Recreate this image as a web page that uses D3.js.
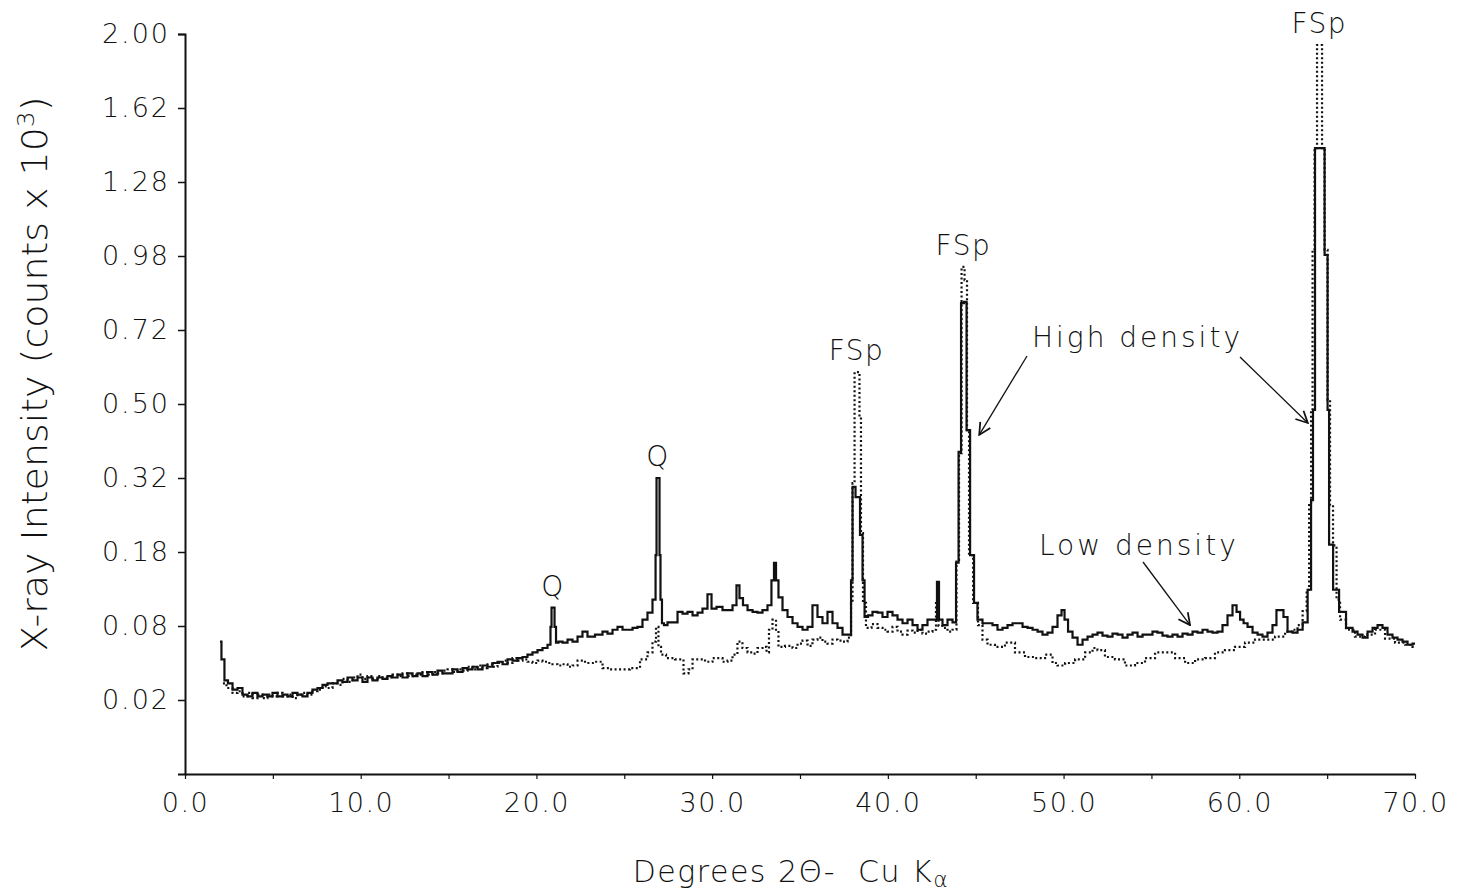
<!DOCTYPE html>
<html>
<head>
<meta charset="utf-8">
<script src="https://cdn.jsdelivr.net/npm/d3@7"></script>
<style>
    body { margin: 0; background: #fff; }
    text { font-family: "DejaVu Sans", sans-serif; font-weight: 200; fill: #111; }
</style>
</head>
<body>
<div id="chart"></div>
<script>
// Degrees 2-theta and intensity (counts x 10^3)
var lowDensity = [
    [1.99,.064],[2.16,.048],[2.33,.032],[2.56,.030],[2.85,.026],[3.13,.027],[3.41,.023],[3.70,.022],[3.98,.024],[4.27,.022],
    [4.55,.023],[4.84,.022],[5.12,.024],[5.41,.022],[5.69,.023],[5.98,.022],[6.26,.024],[6.54,.023],[6.83,.022],[7.11,.024],
    [7.40,.026],[7.68,.027],[7.97,.029],[8.25,.030],[8.54,.030],[8.82,.032],[9.11,.031],[9.39,.034],[9.68,.032],[9.96,.034],
    [10.24,.031],[10.53,.034],[10.81,.032],[11.10,.034],[11.38,.033],[11.67,.035],[11.95,.034],[12.24,.036],[12.52,.034],[12.81,.037],
    [13.09,.035],[13.37,.037],[13.66,.035],[13.94,.038],[14.23,.036],[14.51,.039],[14.80,.037],[15.08,.037],[15.37,.040],[15.65,.038],
    [15.94,.041],[16.22,.040],[16.50,.042],[16.79,.040],[17.07,.043],[17.36,.042],[17.64,.045],[17.93,.046],[18.21,.044],[18.50,.048],
    [18.78,.047],[19.07,.049],[19.35,.050],[19.63,.052],[19.92,.054],[20.20,.056],[20.49,.058],[20.77,.061],[20.83,.079],[20.89,.101],
    [21.00,.101],[21.06,.079],[21.17,.063],[21.34,.064],[21.63,.063],[21.91,.066],[22.20,.064],[22.48,.069],[22.76,.074],[23.05,.069],
    [23.62,.071],[23.90,.074],[24.19,.072],[24.47,.076],[24.76,.079],[25.04,.076],[25.33,.076],[25.61,.078],[25.89,.079],[26.18,.087],
    [26.46,.095],[26.75,.111],[26.81,.175],[26.86,.320],[26.98,.320],[27.03,.175],[27.09,.111],[27.20,.083],[27.32,.081],[27.60,.084],
    [27.89,.084],[28.17,.096],[28.46,.094],[28.74,.096],[29.03,.092],[29.31,.095],[29.59,.100],[29.88,.118],[30.05,.100],[30.45,.102],
    [30.73,.098],[31.02,.098],[31.30,.104],[31.47,.130],[31.64,.113],[31.87,.104],[32.16,.098],[32.44,.096],[32.72,.095],[33.01,.098],
    [33.29,.104],[33.46,.137],[33.58,.163],[33.69,.137],[33.86,.114],[34.15,.098],[34.43,.090],[34.72,.083],[35.00,.079],[35.29,.076],
    [35.57,.079],[35.85,.104],[36.14,.090],[36.42,.083],[36.71,.096],[36.99,.083],[37.28,.078],[37.56,.071],[37.85,.071],[37.96,.137],
    [38.02,.301],[38.30,.280],[38.53,.209],[38.59,.137],[38.76,.090],[38.98,.092],[39.27,.096],[39.55,.095],[39.84,.090],[40.12,.096],
    [40.41,.092],[40.69,.087],[40.98,.083],[41.26,.087],[41.55,.081],[41.83,.076],[42.11,.081],[42.40,.087],[42.74,.087],[42.85,.135],
    [42.97,.087],[43.25,.081],[43.54,.087],[43.82,.084],[43.94,.163],[44.11,.379],[44.22,.810],[44.45,.814],[44.51,.432],[44.85,.175],
    [44.96,.107],[45.24,.087],[45.53,.083],[45.81,.083],[46.10,.081],[46.38,.076],[46.67,.078],[46.95,.081],[47.24,.083],[47.52,.083],
    [47.81,.079],[48.09,.078],[48.38,.076],[48.66,.074],[48.94,.071],[49.23,.073],[49.51,.079],[49.80,.092],[49.97,.098],[50.14,.087],
    [50.37,.074],[50.65,.068],[50.94,.061],[51.22,.066],[51.51,.069],[51.79,.071],[52.07,.073],[52.36,.070],[52.64,.069],[52.93,.072],
    [53.21,.071],[53.50,.068],[53.78,.071],[54.07,.073],[54.35,.069],[54.64,.071],[54.92,.071],[55.20,.074],[55.49,.073],[55.77,.070],
    [56.06,.069],[56.34,.071],[56.63,.069],[56.91,.072],[57.20,.071],[57.48,.074],[57.77,.073],[58.05,.076],[58.33,.074],[58.62,.073],
    [58.90,.074],[59.19,.081],[59.47,.092],[59.76,.104],[59.93,.096],[60.16,.087],[60.33,.083],[60.61,.079],[60.90,.073],[61.18,.071],
    [61.46,.069],[61.75,.073],[62.03,.081],[62.20,.098],[62.43,.098],[62.60,.090],[62.89,.074],[63.17,.073],[63.46,.076],[63.75,.084],
    [64.03,.124],[64.14,.274],[64.25,.484],[64.37,1.431],[64.71,1.431],[65.00,.984],[65.05,.484],[65.17,.192],[65.51,.124],[65.85,.096],
    [66.30,.078],[66.59,.074],[66.87,.071],[67.16,.068],[67.44,.074],[67.73,.078],[68.01,.081],[68.29,.078],[68.58,.071],[68.86,.068],
    [69.15,.066],[69.43,.064],[69.72,.061],[70.00,.062]
];

var highDensity = [
    [2.16,.030],[2.56,.027],[2.85,.024],[3.13,.025],[3.41,.022],[3.70,.024],[3.98,.021],[4.27,.023],[4.55,.021],[4.84,.023],
    [5.12,.022],[5.41,.024],[5.69,.022],[5.98,.023],[6.26,.021],[6.54,.023],[6.83,.024],[7.11,.023],[7.40,.025],[7.68,.026],
    [7.97,.028],[8.25,.027],[8.54,.030],[8.82,.029],[9.11,.033],[9.39,.031],[9.68,.034],[9.96,.036],[10.24,.033],[10.53,.035],
    [10.81,.033],[11.10,.035],[11.38,.034],[11.67,.034],[11.95,.036],[12.24,.035],[12.52,.037],[12.81,.035],[13.09,.036],[13.37,.036],
    [13.66,.038],[13.94,.036],[14.23,.038],[14.51,.037],[14.80,.039],[15.08,.040],[15.37,.038],[15.65,.040],[15.94,.039],[16.22,.042],
    [16.50,.040],[16.79,.043],[17.07,.041],[17.36,.044],[17.64,.042],[17.93,.045],[18.21,.047],[18.50,.045],[18.78,.049],[19.07,.047],
    [19.35,.048],[19.63,.046],[19.92,.045],[20.20,.047],[20.49,.046],[20.77,.045],[21.06,.044],[21.34,.043],[21.63,.044],[21.91,.042],
    [22.20,.043],[22.48,.047],[23.05,.045],[23.62,.046],[23.90,.041],[24.47,.040],[25.04,.040],[25.61,.041],[26.18,.048],[26.46,.054],
    [26.75,.064],[26.86,.079],[27.03,.059],[27.15,.052],[27.60,.049],[28.17,.048],[28.57,.037],[28.74,.040],[29.03,.048],[29.31,.048],
    [29.88,.046],[30.16,.049],[30.45,.049],[30.73,.046],[31.02,.047],[31.30,.052],[31.58,.064],[31.87,.058],[32.16,.054],[32.44,.053],
    [32.72,.058],[33.01,.059],[33.18,.054],[33.29,.076],[33.58,.087],[33.69,.076],[33.86,.059],[34.43,.060],[34.72,.058],[35.00,.062],
    [35.29,.065],[35.57,.060],[35.85,.066],[36.14,.068],[36.42,.064],[36.71,.062],[36.99,.066],[37.28,.065],[37.56,.064],[37.85,.068],
    [37.96,.107],[38.02,.309],[38.19,.590],[38.36,.590],[38.41,.465],[38.53,.212],[38.64,.107],[38.87,.078],[39.27,.082],[39.55,.078],
    [39.84,.076],[40.12,.074],[40.41,.079],[40.69,.074],[40.98,.071],[41.26,.075],[41.55,.073],[41.83,.076],[42.11,.072],[42.40,.074],
    [42.68,.076],[42.80,.111],[42.97,.080],[43.25,.078],[43.54,.074],[43.82,.076],[43.99,.167],[44.11,.376],[44.28,.939],[44.45,.891],
    [44.56,.432],[44.68,.175],[45.02,.107],[45.24,.081],[45.53,.066],[45.81,.061],[46.38,.059],[46.95,.063],[47.52,.054],[48.09,.050],
    [48.66,.049],[49.23,.052],[49.51,.045],[49.80,.043],[50.37,.045],[50.94,.048],[51.51,.054],[51.79,.058],[52.07,.056],[52.64,.050],
    [53.21,.048],[53.78,.043],[54.35,.045],[54.92,.049],[55.49,.054],[56.06,.054],[56.63,.049],[57.20,.045],[57.77,.048],[58.33,.049],
    [58.90,.054],[59.47,.056],[60.04,.059],[60.61,.063],[61.18,.066],[61.75,.066],[62.32,.069],[62.89,.074],[63.17,.076],[63.46,.081],
    [63.75,.097],[63.92,.124],[64.03,.264],[64.14,.484],[64.20,1.00],[64.37,1.431],[64.48,1.941],[64.65,1.941],[64.77,1.431],[64.94,1.003],
    [65.11,.511],[65.22,.264],[65.45,.191],[65.62,.111],[65.85,.087],[66.30,.076],[66.87,.069],[67.44,.071],[68.01,.076],[68.58,.067],
    [69.15,.063],[69.72,.061],[70.00,.059]
];

var yTicks = [0.02, 0.08, 0.18, 0.32, 0.50, 0.72, 0.98, 1.28, 1.62, 2.00];
var xTicks = [0, 5, 10, 15, 20, 25, 30, 35, 40, 45, 50, 55, 60, 65, 70];

// peak labels: [degrees, value of peak top, text]
var peakLabels = [
    [20.95, 0.101, "Q"],
    [26.92, 0.320, "Q"],
    [38.22, 0.590, "FSp"],
    [44.3, 0.939, "FSp"],
    [64.55, 1.941, "FSp"]
];

var width = 1465, height = 896;

var svg = d3.select("#chart").append("svg")
    .attr("width", width)
    .attr("height", height);

var x = d3.scaleLinear().domain([0, 70]).range([185, 1415]);
var y = d3.scaleSqrt().domain([0, 2]).range([774, 34]);

// axes
var yAxis = svg.append("g")
    .attr("transform", "translate(" + x(0) + ",0)")
    .call(d3.axisLeft(y).tickValues(yTicks).tickSize(7).tickPadding(8)
        .tickFormat(d3.format(".2f")));

yAxis.select(".domain").attr("stroke", "#111").attr("stroke-width", 2);
yAxis.selectAll(".tick line").attr("stroke", "#111").attr("stroke-width", 1.5);
yAxis.selectAll(".tick text")
    .style("font-size", "27px")
    .style("letter-spacing", "2px")
    .style("font-family", "DejaVu Sans")
    .attr("fill", "#111");

var xAxis = svg.append("g")
    .attr("transform", "translate(0," + y(0) + ")")
    .call(d3.axisBottom(x).tickValues(xTicks).tickSize(5).tickPadding(14)
        .tickSizeOuter(0)
        .tickFormat(function (d) { return d % 10 === 0 ? d3.format(".1f")(d) : ""; }));

xAxis.select(".domain").attr("stroke", "#111").attr("stroke-width", 2);
xAxis.selectAll(".tick line").attr("stroke", "#111").attr("stroke-width", 1.2);
xAxis.selectAll(".tick text")
    .style("font-size", "27px")
    .style("letter-spacing", "1.5px")
    .style("font-family", "DejaVu Sans")
    .attr("fill", "#111");

// axis titles
svg.append("text")
    .attr("transform", "translate(47,374) rotate(-90)")
    .attr("textLength", 555)
    .attr("lengthAdjust", "spacingAndGlyphs")
    .style("text-anchor", "middle")
    .style("font-size", "35px")
    .html("X-ray Intensity (counts x 10<tspan dy='-13' font-size='23px'>3</tspan><tspan dy='13'>)</tspan>");

svg.append("text")
    .attr("x", 791)
    .attr("y", 882)
    .style("text-anchor", "middle")
    .style("font-size", "30px")
    .style("letter-spacing", "1.5px")
    .html("Degrees 2\u0398- &#160;Cu K<tspan dy='5' font-size='22px'>\u03b1</tspan>");

// traces, drawn as steps like the recorder output
var line = d3.line()
    .curve(d3.curveStep)
    .x(function (d) { return x(d[0]); })
    .y(function (d) { return y(d[1]); });

svg.append("path")
    .attr("d", line(highDensity))
    .attr("fill", "none")
    .attr("stroke", "#111")
    .attr("stroke-width", 2.2)
    .attr("stroke-dasharray", "2,2.5");

svg.append("path")
    .attr("d", line(lowDensity))
    .attr("fill", "none")
    .attr("stroke", "#111")
    .attr("stroke-width", 2.2);

// peak labels
svg.selectAll(".peak")
    .data(peakLabels)
    .enter()
    .append("text")
    .attr("class", "peak")
    .attr("x", function (d) { return x(d[0]); })
    .attr("y", function (d) { return y(d[1]) - 12; })
    .style("text-anchor", "middle")
    .style("font-size", "28px")
    .style("letter-spacing", "1.5px")
    .text(function (d) { return d[2]; });

// annotations with arrows
svg.append("defs").append("marker")
    .attr("id", "head")
    .attr("viewBox", "0 0 12 12")
    .attr("refX", 11).attr("refY", 6)
    .attr("markerWidth", 14).attr("markerHeight", 14)
    .attr("markerUnits", "userSpaceOnUse")
    .attr("orient", "auto")
    .append("path")
    .attr("d", "M1,1 L11,6 L1,11")
    .attr("fill", "none")
    .attr("stroke", "#111")
    .attr("stroke-width", 1.5);

var notes = [
    {text: "High density", tx: 1032, ty: 347, arrows: [[1027, 356, 45.2, 0.42], [1240, 357, 63.9, 0.45]]},
    {text: "Low density", tx: 1039, ty: 555, arrows: [[1143, 562, 57.2, 0.081]]}
];

notes.forEach(function (n) {
    svg.append("text")
        .attr("x", n.tx)
        .attr("y", n.ty)
        .style("font-size", "28px")
        .style("letter-spacing", "3px")
        .text(n.text);
    n.arrows.forEach(function (a) {
        svg.append("line")
            .attr("x1", a[0]).attr("y1", a[1])
            .attr("x2", x(a[2])).attr("y2", y(a[3]))
            .attr("stroke", "#111")
            .attr("stroke-width", 1.3)
            .attr("marker-end", "url(#head)");
    });
});
</script>
</body>
</html>
